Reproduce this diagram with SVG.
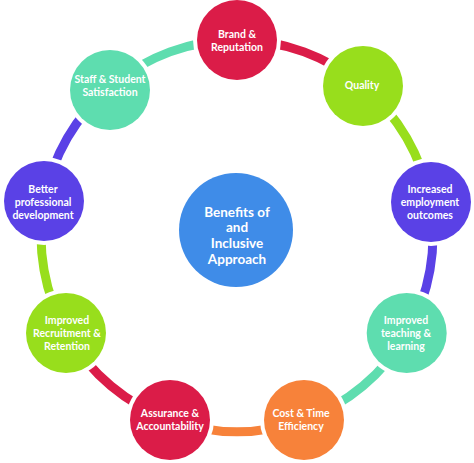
<svg xmlns="http://www.w3.org/2000/svg" width="474" height="463" viewBox="0 0 474 463">
<style>
.t{font-family:Lato,"Open Sans","Liberation Sans",sans-serif;font-weight:bold;fill:#fff;text-anchor:middle;font-size:10.5px}
.tc{font-size:13.5px}
.gap{fill:#fff}
.arc{fill:none;stroke-width:9}
.red{fill:#DB1C48}.grn{fill:#98DE1C}.pur{fill:#5A41E6}.tea{fill:#5EDDAF}.org{fill:#F7823A}.blu{fill:#3F8CE8}
</style>
<rect width="474" height="463" fill="#fff"/>
<g id="connectors">
<path class="arc" stroke="#DB1C48" d="M237,40 A196,196 0 0 1 363,86"/>
<path class="arc" stroke="#98DE1C" d="M363,86 A196,196 0 0 1 430,202"/>
<path class="arc" stroke="#5A41E6" d="M430,202 A196,196 0 0 1 406.7,334"/>
<path class="arc" stroke="#5EDDAF" d="M406.7,334 A196,196 0 0 1 304,420"/>
<path class="arc" stroke="#F7823A" d="M304,420 A196,196 0 0 1 170,420"/>
<path class="arc" stroke="#DB1C48" d="M170,420 A196,196 0 0 1 67.3,334"/>
<path class="arc" stroke="#98DE1C" d="M67.3,334 A196,196 0 0 1 44,202"/>
<path class="arc" stroke="#5A41E6" d="M44,202 A196,196 0 0 1 111,86"/>
<path class="arc" stroke="#5EDDAF" d="M111,86 A196,196 0 0 1 237,40"/>
</g>
<g id="center">
<circle class="blu" cx="236" cy="230" r="57"/>
<text class="t tc" x="237" y="217">Benefits of</text>
<text class="t tc" x="237" y="232">and</text>
<text class="t tc" x="237" y="248">Inclusive</text>
<text class="t tc" x="237" y="264">Approach</text>
</g>
<g id="brand">
<circle class="gap" cx="237" cy="40" r="44"/>
<circle class="red" cx="237" cy="40" r="40"/>
<text class="t" x="237" y="38">Brand &amp;</text>
<text class="t" x="237" y="51">Reputation</text>
</g>
<g id="quality">
<circle class="gap" cx="363" cy="86" r="44"/>
<circle class="grn" cx="363" cy="86" r="40"/>
<text class="t" x="362" y="89">Quality</text>
</g>
<g id="employment">
<circle class="gap" cx="431" cy="202" r="44"/>
<circle class="pur" cx="431" cy="202" r="40"/>
<text class="t" x="430" y="193">Increased</text>
<text class="t" x="430" y="206">employment</text>
<text class="t" x="430" y="219">outcomes</text>
</g>
<g id="teaching">
<circle class="gap" cx="406.7" cy="333" r="44"/>
<circle class="tea" cx="406.7" cy="333" r="40"/>
<text class="t" x="406" y="324">Improved</text>
<text class="t" x="406" y="337">teaching &amp;</text>
<text class="t" x="406" y="350">learning</text>
</g>
<g id="cost">
<circle class="gap" cx="304" cy="420" r="44"/>
<circle class="org" cx="304" cy="420" r="40"/>
<text class="t" x="301" y="417">Cost &amp; Time</text>
<text class="t" x="301" y="430">Efficiency</text>
</g>
<g id="assurance">
<circle class="gap" cx="170" cy="420" r="44"/>
<circle class="red" cx="170" cy="420" r="40"/>
<text class="t" x="170" y="417">Assurance &amp;</text>
<text class="t" x="170" y="430">Accountability</text>
</g>
<g id="recruitment">
<circle class="gap" cx="66" cy="333" r="44"/>
<circle class="grn" cx="66" cy="333" r="40"/>
<text class="t" x="67" y="324">Improved</text>
<text class="t" x="67" y="337">Recruitment &amp;</text>
<text class="t" x="67" y="350">Retention</text>
</g>
<g id="professional">
<circle class="gap" cx="44" cy="201" r="44"/>
<circle class="pur" cx="44" cy="201" r="40"/>
<text class="t" x="43" y="193">Better</text>
<text class="t" x="43" y="206">professional</text>
<text class="t" x="43" y="219">development</text>
</g>
<g id="satisfaction">
<circle class="gap" cx="110" cy="90" r="44"/>
<circle class="tea" cx="110" cy="90" r="40"/>
<text class="t" x="110" y="83">Staff &amp; Student</text>
<text class="t" x="110" y="96">Satisfaction</text>
</g>
</svg>
